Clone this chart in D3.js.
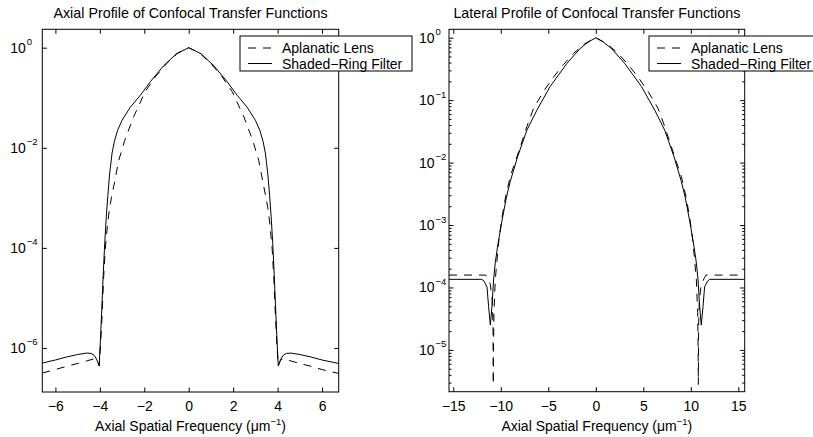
<!DOCTYPE html>
<html><head><meta charset="utf-8">
<script src="https://cdn.jsdelivr.net/npm/d3@7"></script>
<style>
body{margin:0;background:#fff}
text{font-family:"Liberation Sans",Arial,Helvetica,sans-serif;fill:#000}
</style>
</head><body>
<svg id="c" width="813" height="437"></svg>
<script>
// ---------------- DATA ----------------
const seriesNames = ["Aplanatic Lens", "Shaded\u2212Ring Filter"];
const titles = ["Axial Profile of Confocal Transfer Functions", "Lateral Profile of Confocal Transfer Functions"];
const xLabel = "Axial Spatial Frequency (\u03bcm";

// Axial profile
const axialXTicks = [-6, -4, -2, 0, 2, 4, 6];
const axialYTicks = [1, 1e-2, 1e-4, 1e-6];
const axialAplanaticX = [-6.59,-6.0,-5.5,-5.0,-4.6,-4.3,-4.15,-4.07,-4.03,-3.97,-3.9,-3.83,-3.76,-3.66,-3.56,-3.48,-3.38,-3.15,-2.88,-2.48,-1.96,-1.5,-1.0,-0.5,0,
  0.5,1.0,1.5,1.96,2.48,2.88,3.15,3.38,3.48,3.56,3.66,3.76,3.83,3.9,3.97,4.03,4.07,4.15,4.3,4.6,5.0,5.5,6.0,6.75];
const axialAplanaticY = [3.16e-7,3.7e-7,4.3e-7,4.9e-7,5.5e-7,6.0e-7,5.9e-7,5.0e-7,4.4e-7,1.1e-6,4.5e-6,2.5e-5,8.9e-5,2.8e-4,6.3e-4,1.0e-3,1.66e-3,5.6e-3,1.41e-2,4.17e-2,0.132,0.263,0.48,0.776,1,
  0.776,0.48,0.263,0.132,4.17e-2,1.41e-2,5.6e-3,1.66e-3,1.0e-3,6.3e-4,2.8e-4,8.9e-5,2.5e-5,4.5e-6,1.1e-6,4.4e-7,5.0e-7,5.9e-7,6.0e-7,5.5e-7,4.9e-7,4.3e-7,3.7e-7,3.1e-7];
const axialShadedX = [-6.59,-6.0,-5.5,-5.0,-4.6,-4.4,-4.25,-4.15,-4.08,-4.03,-3.98,-3.92,-3.85,-3.78,-3.71,-3.64,-3.56,-3.45,-3.35,-3.2,-3.0,-2.63,-2.18,-1.73,-1.13,-0.55,0,
  0.55,1.13,1.73,2.18,2.63,3.0,3.2,3.35,3.45,3.56,3.64,3.71,3.78,3.85,3.92,3.98,4.03,4.08,4.15,4.25,4.4,4.6,5.0,5.5,6.0,6.75];
const axialShadedY = [5.0e-7,5.75e-7,6.6e-7,7.4e-7,7.9e-7,7.8e-7,7.1e-7,6.0e-7,5.0e-7,4.4e-7,1.26e-6,5.0e-6,2.8e-5,1.26e-4,4.2e-4,1.12e-3,3.0e-3,7.8e-3,1.32e-2,2.24e-2,3.55e-2,6.46e-2,0.112,0.209,0.437,0.76,1,
  0.76,0.437,0.209,0.112,6.46e-2,3.55e-2,2.24e-2,1.32e-2,7.8e-3,3.0e-3,1.12e-3,4.2e-4,1.26e-4,2.8e-5,5.0e-6,1.26e-6,4.4e-7,5.0e-7,6.0e-7,7.1e-7,7.8e-7,7.9e-7,7.4e-7,6.6e-7,5.75e-7,4.9e-7];

// Lateral profile
const lateralXTicks = [-15, -10, -5, 0, 5, 10, 15];
const lateralYTicks = [1, 1e-1, 1e-2, 1e-3, 1e-4, 1e-5];
const lateralAplanaticX = [-15.45,-11.6,-11.45,-11.1,-10.9,-10.82,-10.79,-10.77,-10.72,-10.58,-10.4,-10.2,-9.9,-9.5,-9.0,-8.24,-7.25,-6.55,-5.5,-4.45,-3.4,-2.34,-1.2,0,
  1.2,2.34,3.4,4.45,5.5,6.55,7.25,8.24,9.0,9.5,9.9,10.2,10.4,10.58,10.72,10.77,10.79,10.82,10.9,11.1,11.45,11.6,15.67];
const lateralAplanaticY = [1.58e-4,1.58e-4,1.45e-4,1.12e-4,6.3e-5,2.5e-5,2.8e-6,1.0e-5,4.0e-5,1.32e-4,2.75e-4,5.75e-4,1.26e-3,2.82e-3,6.0e-3,1.32e-2,3.8e-2,7.4e-2,0.138,0.234,0.372,0.562,0.794,1,
  0.794,0.562,0.372,0.234,0.138,7.4e-2,3.8e-2,1.32e-2,6.0e-3,2.82e-3,1.26e-3,5.75e-4,2.75e-4,1.32e-4,4.0e-5,1.0e-5,2.8e-6,2.5e-5,6.3e-5,1.12e-4,1.45e-4,1.58e-4,1.58e-4];
const lateralShadedX = [-15.45,-12.0,-11.75,-11.45,-11.28,-11.1,-10.93,-10.76,-10.58,-10.34,-9.9,-9.4,-9.0,-8.24,-7.25,-6.2,-4.8,-3.03,-1.63,-0.8,0,
  0.8,1.63,3.03,4.8,6.2,7.25,8.24,9.0,9.4,9.9,10.34,10.58,10.76,10.93,11.1,11.28,11.45,11.75,12.0,15.67];
const lateralShadedY = [1.35e-4,1.35e-4,1.26e-4,1.02e-4,4.9e-5,2.5e-5,4.9e-5,1.32e-4,2.5e-4,4.5e-4,1.12e-3,2.82e-3,5.0e-3,1.23e-2,3.31e-2,6.92e-2,0.166,0.389,0.676,0.851,1,
  0.851,0.676,0.389,0.166,6.92e-2,3.31e-2,1.23e-2,5.0e-3,2.82e-3,1.12e-3,4.5e-4,2.5e-4,1.32e-4,4.9e-5,2.5e-5,4.9e-5,1.02e-4,1.26e-4,1.35e-4,1.35e-4];

// ---------------- DRAW ----------------
const svg = d3.select("#c");
const FONT = '"Liberation Sans",Arial,Helvetica,sans-serif';
const DASH = "8,7";

function zipXY(xs, ys){ return xs.map((v,i)=>[v, ys[i]]); }

function panel(o){
  const x = d3.scaleLinear().domain(o.xDomain).range([o.left, o.right]);
  const y = d3.scaleLog().domain(o.yDomain).range([o.bottom, o.top]);
  const g = svg.append("g");
  const cid = "clip-" + o.name;
  svg.append("clipPath").attr("id", cid).append("rect")
    .attr("x", o.left).attr("y", o.top).attr("width", o.right-o.left).attr("height", o.bottom-o.top);

  const line = d3.line().x(d=>x(d[0])).y(d=>y(d[1]));
  const cg = g.append("g").attr("clip-path", `url(#${cid})`);
  cg.append("path").datum(zipXY(o.dashX, o.dashY)).attr("d", line)
    .attr("fill","none").attr("stroke","#000").attr("stroke-width",1).attr("stroke-dasharray",DASH);
  cg.append("path").datum(zipXY(o.solidX, o.solidY)).attr("d", line)
    .attr("fill","none").attr("stroke","#000").attr("stroke-width",1);

  const clean = s => { s.select(".domain").remove(); s.selectAll("line").attr("stroke","#000"); };
  // x ticks
  const xb = g.append("g").attr("transform",`translate(0,${o.bottom})`)
    .call(d3.axisBottom(x).tickValues(o.xTicks).tickSize(-4.5).tickPadding(9).tickFormat(d3.format("d")));
  clean(xb);
  xb.selectAll("text").attr("font-family",FONT).attr("font-size",14).attr("fill","#000");
  xb.attr("font-family",FONT).attr("font-size",14);
  const xt = g.append("g").attr("transform",`translate(0,${o.top})`)
    .call(d3.axisTop(x).tickValues(o.xTicks).tickSize(-4.5).tickFormat(""));
  clean(xt);
  // y ticks
  const yl = g.append("g").attr("transform",`translate(${o.left},0)`)
    .call(d3.axisLeft(y).tickValues(o.yTicks).tickSize(-4.5).tickFormat(""));
  clean(yl);
  const yr = g.append("g").attr("transform",`translate(${o.right},0)`)
    .call(d3.axisRight(y).tickValues(o.yTicks).tickSize(-4.5).tickFormat(""));
  clean(yr);
  if (o.minor){
    const lo = Math.floor(Math.log10(o.yDomain[0])), hi = Math.ceil(Math.log10(o.yDomain[1]));
    const minor = [];
    for (let e=lo; e<hi; e++) for (let m=2; m<=9; m++){ const v = m*Math.pow(10,e); if (v>=o.yDomain[0] && v<=o.yDomain[1]) minor.push(v); }
    clean(g.append("g").attr("transform",`translate(${o.left},0)`).call(d3.axisLeft(y).tickValues(minor).tickSize(-2.5).tickFormat("")));
    clean(g.append("g").attr("transform",`translate(${o.right},0)`).call(d3.axisRight(y).tickValues(minor).tickSize(-2.5).tickFormat("")));
  }
  // y labels 10^n
  o.yTicks.forEach(v=>{
    const e = Math.round(Math.log10(v));
    const yy = y(v);
    g.append("text").attr("x", o.left - o.labOff).attr("y", yy + 5).attr("text-anchor","end")
      .attr("font-size",14).text("10");
    g.append("text").attr("x", o.left - o.labOff + 1).attr("y", yy - 2.5).attr("text-anchor","start")
      .attr("font-size",9.5).text(e===0 ? "0" : "\u2212" + (-e));
  });
  // box
  g.append("rect").attr("x",o.left).attr("y",o.top).attr("width",o.right-o.left).attr("height",o.bottom-o.top)
    .attr("fill","none").attr("stroke","#000").attr("stroke-width",1);
  // title
  const cx = (o.left+o.right)/2;
  g.append("text").attr("x",cx).attr("y",18).attr("text-anchor","middle").attr("font-size",14.3).text(o.title);
  // x label
  const xl = g.append("text").attr("x",cx).attr("y",431).attr("text-anchor","middle").attr("font-size",14);
  xl.append("tspan").text(xLabel);
  xl.append("tspan").attr("dy",-6).attr("font-size",9.5).text("\u22121");
  xl.append("tspan").attr("dy",6).text(")");
  return {x,y};
}

function legend(lx, ly, w, h){
  const g = svg.append("g");
  g.append("rect").attr("x",lx).attr("y",ly).attr("width",w).attr("height",h)
    .attr("fill","#fff").attr("stroke","#000").attr("stroke-width",1);
  const rows = [ly+12, ly+27.5];
  g.append("line").attr("x1",lx+8).attr("x2",lx+32).attr("y1",rows[0]).attr("y2",rows[0])
    .attr("stroke","#000").attr("stroke-dasharray",DASH);
  g.append("line").attr("x1",lx+8).attr("x2",lx+32).attr("y1",rows[1]).attr("y2",rows[1]).attr("stroke","#000");
  seriesNames.forEach((n,i)=>{
    g.append("text").attr("x",lx+42).attr("y",rows[i]+5).attr("font-size",14).text(n);
  });
}

panel({name:"axial", left:42.3, right:338.7, top:29.3, bottom:392,
  xDomain:[-6.59, 6.75], yDomain:[Math.pow(10,-6.88), Math.pow(10,0.368)],
  xTicks:axialXTicks, yTicks:axialYTicks, minor:false, labOff:16.5,
  dashX:axialAplanaticX, dashY:axialAplanaticY, solidX:axialShadedX, solidY:axialShadedY, title:titles[0]});

panel({name:"lateral", left:449, right:744.7, top:29.3, bottom:391.7,
  xDomain:[-15.45, 15.67], yDomain:[Math.pow(10,-5.669), Math.pow(10,0.1345)],
  xTicks:lateralXTicks, yTicks:lateralYTicks, minor:true, labOff:14.5,
  dashX:lateralAplanaticX, dashY:lateralAplanaticY, solidX:lateralShadedX, solidY:lateralShadedY, title:titles[1]});

legend(240, 36, 172, 35);
legend(649, 36, 172, 35);
</script>
</body></html>
